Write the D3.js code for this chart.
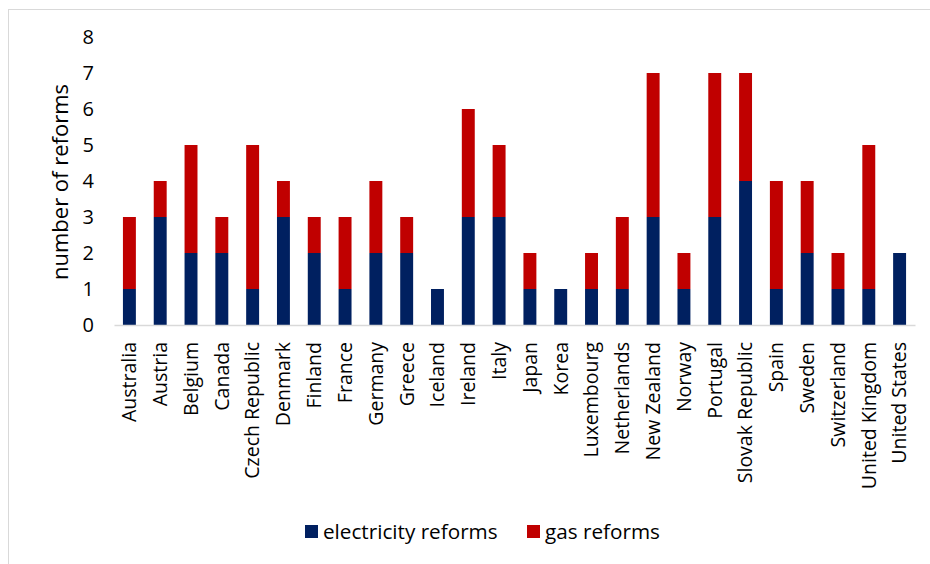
<!DOCTYPE html>
<html>
<head>
<meta charset="utf-8">
<script src="https://cdn.jsdelivr.net/npm/d3@7"></script>
<style>
  html, body { margin: 0; padding: 0; background: #fff; }
  svg { display: block; font-family: "Open Sans", sans-serif; }
</style>
</head>
<body>
<svg id="chart" width="930" height="564"></svg>
<script>
const countries = ["Australia","Austria","Belgium","Canada","Czech Republic","Denmark","Finland","France","Germany","Greece","Iceland","Ireland","Italy","Japan","Korea","Luxembourg","Netherlands","New Zealand","Norway","Portugal","Slovak Republic","Spain","Sweden","Switzerland","United Kingdom","United States"];
const electricityReforms = [1,3,2,2,1,3,2,1,2,2,1,3,3,1,1,1,1,3,1,3,4,1,2,1,1,2];
const gasReforms = [2,1,3,1,4,1,1,2,2,1,0,3,2,1,0,1,2,4,1,4,3,3,2,1,4,0];
const yTicks = [0,1,2,3,4,5,6,7,8];
const seriesNames = ["electricity reforms","gas reforms"];
const seriesColors = ["#002060","#C00000"];

const FONT = "'Open Sans', sans-serif";
const svg = d3.select("#chart");

// outer frame
svg.append("rect")
  .attr("x", 8.5).attr("y", 9.5)
  .attr("width", 940).attr("height", 600)
  .attr("fill", "none").attr("stroke", "#d9d9d9").attr("stroke-width", 1);

const plot = { left: 114, right: 915, top: 37, bottom: 325 };

const x = d3.scaleBand().domain(countries).range([plot.left, plot.right]).paddingInner(0.58).paddingOuter(0.29);
const y = d3.scaleLinear().domain([0, 8]).range([plot.bottom, plot.top]);

const rows = countries.map((c, i) => ({ country: c, elec: electricityReforms[i], gas: gasReforms[i] }));
const stacked = d3.stack().keys(["elec", "gas"])(rows);

svg.append("g").selectAll("g")
  .data(stacked)
  .join("g")
  .attr("fill", (d, i) => seriesColors[i])
  .selectAll("rect")
  .data(d => d)
  .join("rect")
  .attr("x", d => x(d.data.country))
  .attr("width", x.bandwidth())
  .attr("y", d => y(d[1]))
  .attr("height", d => y(d[0]) - y(d[1]));

// category axis
const xAxis = svg.append("g")
  .attr("transform", `translate(0,${plot.bottom})`)
  .call(d3.axisBottom(x).tickSize(0).tickPadding(0))
  .attr("font-family", FONT);
xAxis.select(".domain").attr("stroke", "#d9d9d9").attr("stroke-width", 1.5);
xAxis.selectAll("text")
  .attr("font-size", 19.5)
  .attr("fill", "#000")
  .attr("text-anchor", "end")
  .attr("dy", "0.35em")
  .attr("transform", "translate(0,17) rotate(-90)");

// value axis
const yAxis = svg.append("g")
  .attr("transform", `translate(${plot.left},0)`)
  .call(d3.axisLeft(y).tickValues(yTicks).tickFormat(d3.format("d")).tickSize(0).tickPadding(20))
  .attr("font-family", FONT);
yAxis.select(".domain").remove();
yAxis.selectAll("text").attr("font-size", 20).attr("fill", "#000");

svg.append("text")
  .attr("transform", `translate(68,${(plot.top + plot.bottom) / 2 + 1}) rotate(-90)`)
  .attr("text-anchor", "middle")
  .attr("font-size", 22)
  .attr("fill", "#000")
  .text("number of reforms");

// legend
const legendX = [305, 527];
const legend = svg.append("g").selectAll("g")
  .data(seriesNames)
  .join("g")
  .attr("transform", (d, i) => `translate(${legendX[i]},525)`);
legend.append("rect").attr("width", 13).attr("height", 13).attr("fill", (d, i) => seriesColors[i]);
legend.append("text")
  .attr("x", 18).attr("y", 6.5).attr("dy", "0.35em")
  .attr("font-size", 20.7).attr("fill", "#000")
  .text(d => d);
</script>
</body>
</html>
